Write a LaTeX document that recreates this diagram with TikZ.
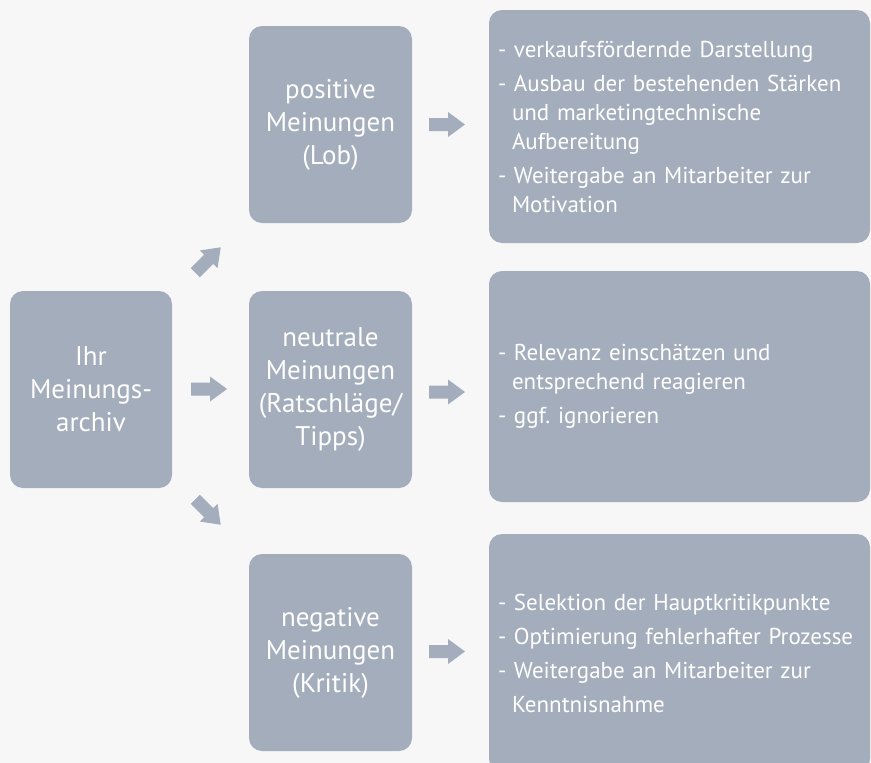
\documentclass[tikz,border=0pt]{standalone}
\usepackage{fontspec}
\setmainfont{PT Sans}
\frenchspacing
\begin{document}
\definecolor{boxcol}{HTML}{A4ADBB}
\definecolor{bgcol}{HTML}{F7F7F7}
\begin{tikzpicture}[x=1pt,y=-1pt,
  box/.style={fill=boxcol, rounded corners=13pt, text=white, inner sep=0pt},
  catbox/.style={box, minimum width=163pt, minimum height=197pt, align=center,
    font=\fontsize{27}{33}\selectfont},
  infobox/.style={box, text width=363pt, inner xsep=9pt, inner ysep=0pt, align=left,
    font=\fontsize{23}{29}\selectfont},
  blockarrow/.pic={\fill[boxcol] (-18,-6.5) -- (1,-6.5) -- (1,-12.5) -- (18,0) -- (1,12.5) -- (1,6.5) -- (-18,6.5) -- cycle;}
]
\useasboundingbox (0,0) rectangle (871,763);
\clip (0,0) rectangle (871,763);
\fill[bgcol] (0,0) rectangle (871,763);

% left box
\node[catbox, minimum width=162pt] (archiv) at (91,389.5) {Ihr\\Meinungs-\\archiv};

% category boxes
\node[catbox] (pos) at (330.5,124.5) {positive\\Meinungen\\(Lob)};
\node[catbox] (neu) at (330.5,389.5) {neutrale\\Meinungen\\(Ratschläge/\\Tipps)};
\node[catbox] (neg) at (330.5,652.5) {negative\\Meinungen\\(Kritik)};

% info boxes
\node[infobox, minimum height=233pt] (posinfo) at (679.5,126.5) {%
- verkaufsfördernde Darstellung\\[5pt]
- Ausbau der bestehenden Stärken\\
\hspace*{14pt}und marketingtechnische\\
\hspace*{14pt}Aufbereitung\\[5pt]
- Weitergabe an Mitarbeiter zur\\
\hspace*{14pt}Motivation};
\node[infobox, minimum height=231pt] (neuinfo) at (679.5,386.5) {%
- Relevanz einschätzen und\\
\hspace*{14pt}entsprechend reagieren\\[5pt]
- ggf. ignorieren};
\node[infobox, minimum height=238pt] (neginfo) at (679.5,653) {%
- Selektion der Hauptkritikpunkte\\[5pt]
- Optimierung fehlerhafter Prozesse\\[5pt]
- Weitergabe an Mitarbeiter zur\\[5pt]
\hspace*{14pt}Kenntnisnahme};

% block arrows
\pic[rotate=45] (a1) at (208,260) {blockarrow};
\pic (a2) at (209,389) {blockarrow};
\pic[rotate=-45] (a3) at (208,512) {blockarrow};
\pic (a4) at (447,124.5) {blockarrow};
\pic (a5) at (447,392) {blockarrow};
\pic (a6) at (447,651.5) {blockarrow};
\end{tikzpicture}
\end{document}
